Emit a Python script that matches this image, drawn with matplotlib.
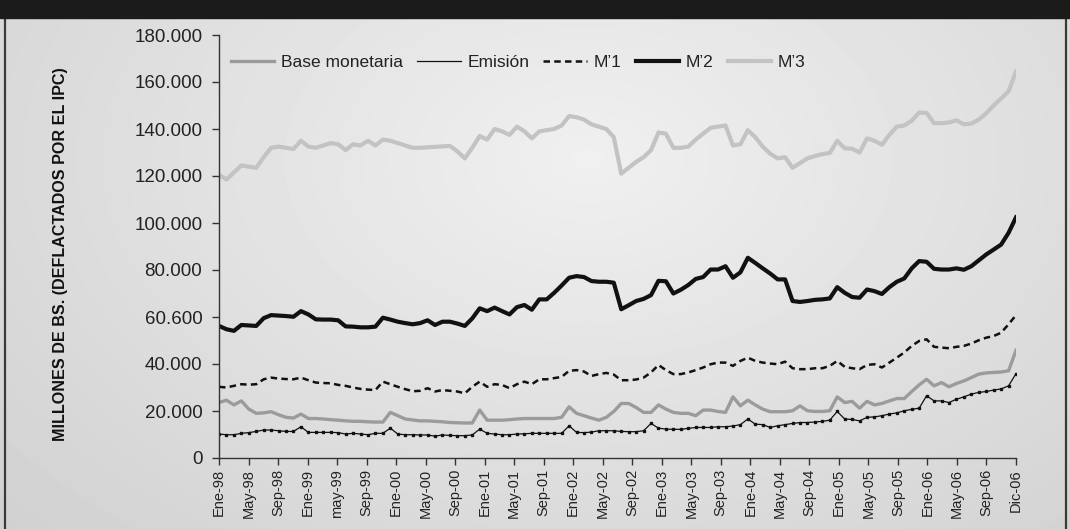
import numpy as np
import matplotlib
matplotlib.use("Agg")
import matplotlib.pyplot as plt
from matplotlib.patches import Rectangle
from matplotlib.lines import Line2D

plt.rcParams["font.family"] = ["Liberation Sans", "DejaVu Sans"]

# Monthly series, Ene-98 .. Dic-06, millones de Bs. (thousands shown as "x.000")
base_monetaria = [
    23.6, 24.6, 22.6, 24.3, 20.8, 19.0, 19.2, 19.7, 18.4, 17.3,
    17.0, 18.7, 16.8, 16.8, 16.6, 16.3, 16.1, 15.8, 15.6, 15.6,
    15.4, 15.3, 15.3, 19.4, 18.0, 16.6, 16.2, 15.8, 15.8, 15.6,
    15.4, 15.1, 15.0, 14.9, 14.9, 20.4, 16.1, 16.1, 16.1, 16.3,
    16.6, 16.8, 16.8, 16.8, 16.8, 16.8, 17.3, 21.8, 19.0, 18.0,
    17.0, 16.1, 17.3, 19.8, 23.2, 23.2, 21.5, 19.4, 19.4, 22.6,
    20.8, 19.4, 19.0, 19.0, 18.0, 20.4, 20.4, 19.8, 19.4, 26.0,
    22.2, 24.6, 22.6, 20.8, 19.7, 19.7, 19.7, 20.1, 22.2, 20.1,
    19.8, 19.8, 20.1, 26.0, 23.6, 24.1, 21.2, 24.1, 22.6, 23.2,
    24.3, 25.3, 25.3, 28.3, 31.1, 33.5, 30.7, 32.1, 30.3, 31.7,
    32.8, 34.2, 35.7, 36.2, 36.4, 36.6, 37.1, 45.8,
]
emision = [
    10.2, 9.9, 9.9, 10.5, 10.8, 11.3, 11.9, 11.9, 11.6, 11.3,
    11.3, 13.3, 10.9, 10.9, 10.9, 10.9, 10.8, 10.2, 10.5, 10.2,
    9.9, 10.5, 10.5, 12.7, 10.2, 9.9, 9.9, 9.8, 9.8, 9.3,
    9.8, 9.6, 9.5, 9.5, 9.8, 12.3, 10.5, 10.2, 9.9, 9.9,
    10.2, 10.3, 10.5, 10.5, 10.5, 10.5, 10.5, 13.7, 10.9, 10.8,
    11.0, 11.6, 11.6, 11.6, 11.3, 11.2, 11.2, 11.6, 14.7, 12.7,
    12.3, 12.2, 12.2, 12.6, 13.0, 13.0, 13.0, 13.3, 13.3, 13.6,
    14.2, 16.6, 14.4, 14.2, 13.0, 13.7, 14.2, 14.7, 15.1, 15.1,
    15.3, 15.6, 16.1, 19.8, 16.6, 16.4, 15.8, 17.3, 17.5, 18.0,
    18.7, 19.2, 20.1, 20.7, 21.2, 26.5, 24.3, 24.3, 23.6, 25.0,
    26.0, 27.2, 27.9, 28.3, 28.9, 29.4, 30.7, 35.9,
]
m1 = [
    30.3, 30.0, 30.7, 31.4, 31.2, 31.4, 33.5, 34.2, 33.8, 33.6,
    33.5, 34.2, 33.1, 32.1, 31.9, 31.8, 31.1, 30.7, 30.0, 29.4,
    29.1, 28.9, 32.5, 31.4, 30.3, 29.3, 28.4, 28.6, 29.7, 28.3,
    28.9, 28.6, 28.3, 27.5, 30.3, 32.5, 30.3, 31.4, 31.1, 29.7,
    31.4, 32.5, 31.4, 33.5, 33.5, 34.0, 34.5, 37.1, 37.4, 36.8,
    34.9, 35.7, 36.2, 35.5, 33.1, 33.1, 33.4, 34.2, 36.4, 39.6,
    37.4, 35.7, 35.7, 36.4, 37.4, 38.5, 39.9, 40.6, 40.6, 39.2,
    41.3, 42.7, 41.3, 40.6, 40.2, 39.9, 41.0, 38.2, 37.8, 37.8,
    38.2, 38.2, 39.2, 41.3, 38.8, 38.2, 37.8, 39.6, 39.9, 38.5,
    40.6, 42.7, 44.9, 47.7, 49.8, 50.5, 47.3, 47.0, 46.7, 47.3,
    47.7, 48.7, 50.1, 51.2, 51.9, 53.3, 56.9, 60.8,
]
m2 = [
    56.2, 54.8, 54.1, 56.6, 56.4, 56.2, 59.5, 60.8, 60.6, 60.4,
    60.1, 62.5, 61.1, 59.0, 58.9, 58.9, 58.6, 56.0, 55.9, 55.6,
    55.6, 55.9, 59.7, 58.9, 58.0, 57.4, 56.9, 57.4, 58.6, 56.6,
    58.0, 58.0, 57.2, 56.2, 59.4, 63.7, 62.5, 64.0, 62.5, 61.1,
    64.2, 65.1, 63.1, 67.5, 67.5, 70.3, 73.4, 76.7, 77.4, 77.0,
    75.3, 75.0, 75.0, 74.6, 63.3, 65.0, 66.8, 67.7, 69.3, 75.4,
    75.2, 70.0, 71.6, 73.6, 76.2, 77.0, 80.2, 80.2, 81.6, 76.7,
    79.0, 85.2, 83.0, 80.7, 78.5, 76.0, 76.0, 66.8, 66.4, 66.8,
    67.3, 67.5, 67.9, 72.7, 70.3, 68.5, 68.2, 71.7, 71.0, 69.8,
    72.7, 75.0, 76.4, 80.7, 83.8, 83.5, 80.5, 80.2, 80.2, 80.7,
    80.1, 81.6, 84.1, 86.6, 88.7, 90.8, 95.8, 102.4,
]
m3 = [
    120.5, 118.5, 121.5, 124.5, 124.0, 123.5, 128.0, 132.0, 132.5, 132.0,
    131.5, 135.0, 132.5, 132.0, 133.0, 134.0, 133.5, 131.0, 133.5, 133.0,
    135.0, 133.0, 135.5, 135.0, 134.0, 133.0, 132.0, 132.0, 132.2, 132.4,
    132.6, 132.8, 130.5, 127.5, 132.0, 137.0, 135.5, 140.0, 139.0, 137.5,
    141.0, 139.0, 136.0, 139.0, 139.5, 140.0, 141.5, 145.5, 145.0, 144.0,
    142.0, 141.0, 140.0, 136.5, 121.0, 123.5, 126.0, 128.0, 131.0, 138.5,
    138.0, 132.0, 132.0, 132.5, 135.5, 138.0, 140.5, 141.0, 141.5, 133.0,
    133.5, 139.5, 136.5, 132.5, 129.5, 127.5, 128.0, 123.5, 125.5, 127.5,
    128.5, 129.3, 129.8, 135.0, 131.8, 131.6, 130.0, 136.0, 135.0, 133.3,
    137.5, 141.0, 141.5, 143.5, 147.0, 146.8, 142.5, 142.5, 142.8, 143.7,
    142.0, 142.3, 144.0, 146.7, 150.0, 153.0, 156.0, 164.5,
]

x_tick_labels = [
    "Ene-98", "May-98", "Sep-98", "Ene-99", "may-99", "Sep-99", "Ene-00",
    "May-00", "Sep-00", "Ene-01", "May-01", "Sep-01", "Ene-02", "May-02",
    "Sep-02", "Ene-03", "May-03", "Sep-03", "Ene-04", "May-04", "Sep-04",
    "Ene-05", "May-05", "Sep-05", "Ene-06", "May-06", "Sep-06", "Dic-06",
]
y_ticks = [0, 20000, 40000, 60000, 80000, 100000, 120000, 140000, 160000, 180000]
y_tick_labels = ["0", "20.000", "40.000", "60.600", "80.000", "100.000",
                 "120.000", "140.000", "160.000", "180.000"]

W, H = 1070, 529
fig = plt.figure(figsize=(W / 100, H / 100), dpi=100)

# gray background with a lighter centre
bg = fig.add_axes([0, 0, 1, 1])
yy, xx = np.mgrid[0:1:H * 1j, 0:1:W * 1j]
r = np.sqrt(((xx - 0.55) / 0.75) ** 2 + ((yy - 0.3) / 1.0) ** 2)
grad = np.clip(0.94 - 0.12 * r, 0, 1)
bg.imshow(grad, extent=[0, 1, 0, 1], aspect="auto", cmap="gray", vmin=0, vmax=1)
bg.set_xlim(0, 1)
bg.set_ylim(0, 1)
bg.axis("off")

fig.patches.append(Rectangle((0, 1 - 18 / H), 1, 18 / H, transform=fig.transFigure,
                             color="#1b1b1b", zorder=5))
for xe in (4.5 / W, 1065.5 / W):
    fig.lines.append(Line2D([xe, xe], [0, 1], transform=fig.transFigure,
                            color="#3a3a3a", lw=1.6, zorder=5))

ax = fig.add_axes([219 / W, 1 - 458 / H, 797 / W, 423 / H])
ax.patch.set_alpha(0)

x = np.arange(len(m3))
k = 1000
ax.plot(x, np.array(m3) * k, color="#c3c3c6", lw=3.0, solid_joinstyle="round")
ax.plot(x, np.array(m2) * k, color="#111111", lw=3.0, solid_joinstyle="round")
ax.plot(x, np.array(m1) * k, color="#111111", lw=1.8, dashes=(2.6, 1.7))
ax.plot(x, np.array(base_monetaria) * k, color="#9b9b9d", lw=2.4, solid_joinstyle="round")
ax.plot(x, np.array(emision) * k, color="#111111", lw=0.9, marker="s", markersize=1.7)

ax.set_xlim(0, len(m3) - 1)
ax.set_ylim(0, 180000)
ax.set_yticks(y_ticks)
ax.set_yticklabels(y_tick_labels, fontsize=13.5, color="#222222")
ax.set_xticks(np.linspace(0, len(m3) - 1, len(x_tick_labels)))
ax.set_xticklabels(x_tick_labels, rotation=90, fontsize=10.5, color="#222222")
ax.tick_params(axis="both", direction="out", length=5, width=1, color="#333333")
ax.tick_params(axis="y", pad=7)
ax.tick_params(axis="x", pad=3)
for s in ("top", "right"):
    ax.spines[s].set_visible(False)
for s in ("left", "bottom"):
    ax.spines[s].set_color("#333333")
    ax.spines[s].set_linewidth(1.0)

fig.text(61 / W, 1 - 254 / H, "MILLONES DE BS. (DEFLACTADOS POR EL IPC)",
         rotation=90, ha="center", va="center", fontsize=11.6, fontweight="bold",
         color="#111111")

handles = [
    Line2D([0], [0], color="#9b9b9d", lw=2.4),
    Line2D([0], [0], color="#111111", lw=0.9),
    Line2D([0], [0], color="#111111", lw=1.8, dashes=(2.6, 1.7)),
    Line2D([0], [0], color="#111111", lw=3.0),
    Line2D([0], [0], color="#c3c3c6", lw=3.0),
]
labels = ["Base monetaria", "Emisión", "M’1", "M’2", "M’3"]
ax.legend(handles, labels, loc="center left", bbox_to_anchor=(0.015, 0.934),
          ncol=5, frameon=False, fontsize=12.5, handlelength=2.5,
          handletextpad=0.4, columnspacing=0.8, borderpad=0, borderaxespad=0,
          labelcolor="#222222")

fig.savefig("out.png", dpi=100)
